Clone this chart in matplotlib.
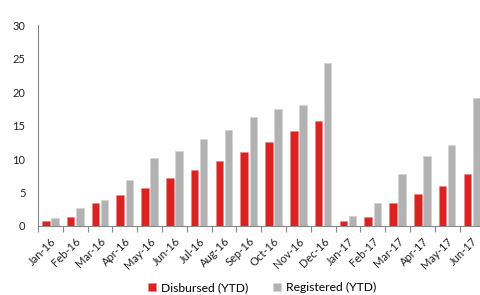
import matplotlib
matplotlib.use('Agg')
import matplotlib.pyplot as plt
import numpy as np

plt.rcParams['font.family'] = ['Lato', 'DejaVu Sans']

months = ['Jan-16', 'Feb-16', 'Mar-16', 'Apr-16', 'May-16', 'Jun-16',
          'Jul-16', 'Aug-16', 'Sep-16', 'Oct-16', 'Nov-16', 'Dec-16',
          'Jan-17', 'Feb-17', 'Mar-17', 'Apr-17', 'May-17', 'Jun-17']
disbursed = [0.75, 1.4, 3.4, 4.6, 5.7, 7.2, 8.4, 9.7, 11.0, 12.6, 14.2, 15.7,
             0.75, 1.4, 3.5, 4.7, 6.0, 7.7]
registered = [1.25, 2.7, 3.9, 6.8, 10.1, 11.2, 12.95, 14.4, 16.3, 17.5, 18.1, 24.3,
              1.5, 3.4, 7.7, 10.5, 12.1, 19.1]

red = '#DA2320'
grey = '#B2B2B2'

fig = plt.figure(figsize=(4.81, 2.95), dpi=100)
ax = fig.add_axes([0.079, 0.234, 0.928, 0.681])

x = np.arange(len(months))
off = 0.185
w = 0.30
ax.bar(x - off, disbursed, w, color=red, edgecolor='#F08080', linewidth=0.4,
       label='Disbursed (YTD)')
ax.bar(x + off, registered, w, color=grey, edgecolor='#D0D0D0', linewidth=0.4,
       label='Registered (YTD)')

ax.set_xlim(-0.5, len(months) - 0.5)
ax.set_ylim(0, 30)
ax.set_yticks(range(0, 31, 5))
ax.tick_params(axis='y', length=0, labelsize=8, colors='#222222', pad=9)

ax.set_xticks(x)
ax.set_xticklabels(months, rotation=45, ha='right', rotation_mode='anchor',
                   fontsize=8, color='#222222')
ax.tick_params(axis='x', which='major', length=0, pad=7)
ax.set_xticks(np.arange(-0.5, len(months), 1), minor=True)
ax.tick_params(axis='x', which='minor', length=4, color='#888888', width=0.8)

for s in ['top', 'right']:
    ax.spines[s].set_visible(False)
for s in ['left', 'bottom']:
    ax.spines[s].set_color('#888888')
    ax.spines[s].set_linewidth(0.8)

fig.legend(loc='center', bbox_to_anchor=(0.545, 0.024), ncol=2, frameon=False,
           fontsize=8.7, handlelength=0.7, handleheight=0.7, handletextpad=0.4,
           columnspacing=2.0)

fig.savefig('out.png', dpi=100)
